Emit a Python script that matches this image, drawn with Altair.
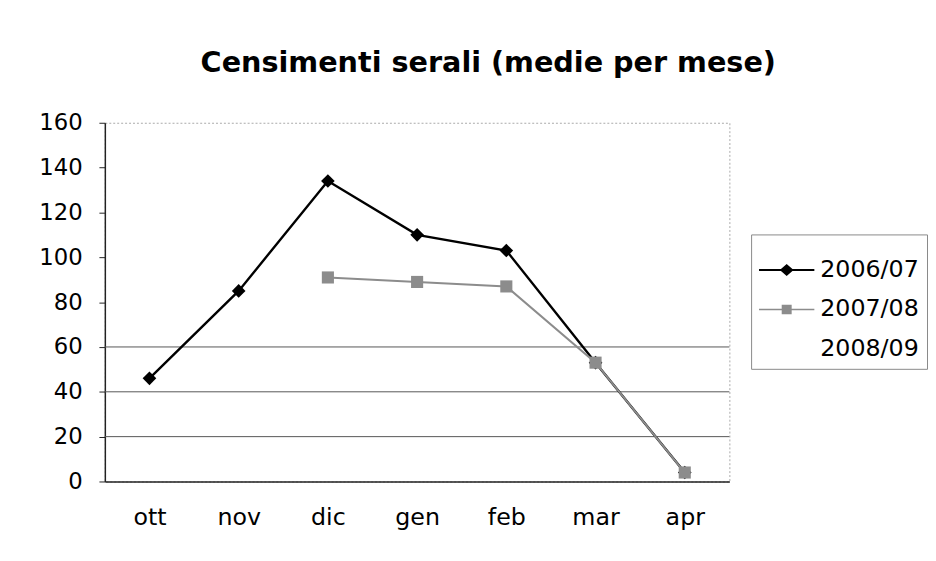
import altair as alt
import pandas as pd

months = ["ott", "nov", "dic", "gen", "feb", "mar", "apr"]
series_names = ["2006/07", "2007/08", "2008/09"]
v_2006_07 = [46, 85, 134, 110, 103, 53, 4]
v_2007_08 = [None, None, 91, 89, 87, 53, 4]
v_2008_09 = [None, None, None, None, None, None, None]
y_ticks = [0, 20, 40, 60, 80, 100, 120, 140, 160]
grid_lines = [20, 40, 60]

rows = []
for name, vals in zip(series_names, [v_2006_07, v_2007_08, v_2008_09]):
    for m, v in zip(months, vals):
        rows.append({"mese": m, "serie": name, "valore": v})
df = pd.DataFrame(rows)
grid_df = pd.DataFrame({"g": grid_lines})

colors = ["#000000", "#8c8c8c", "#ffffff"]

x_enc = alt.X("mese:N", sort=months,
              scale=alt.Scale(type="point", padding=0.5),
              axis=alt.Axis(title=None, labelAngle=0, labelFontSize=24, labelColor="#000",
                            tickSize=0, labelPadding=25, domainColor="#222", domainWidth=1.5,
                            labelFont="DejaVu Sans"))
y_enc = alt.Y("valore:Q", scale=alt.Scale(domain=[0, 160], nice=False),
              axis=alt.Axis(title=None, values=y_ticks, grid=False, labelFontSize=23,
                            labelColor="#000", tickSize=6, tickColor="#222", labelPadding=17,
                            domainColor="#222", domainWidth=1.5, labelFont="DejaVu Sans"))

grid = alt.Chart(grid_df).mark_rule(color="#555", strokeWidth=1).encode(
    y=alt.Y("g:Q", scale=alt.Scale(domain=[0, 160], nice=False))
)

lines = alt.Chart(df).mark_line().encode(
    x=x_enc, y=y_enc,
    color=alt.Color("serie:N", scale=alt.Scale(domain=series_names, range=colors), legend=None),
    strokeWidth=alt.StrokeWidth("serie:N", scale=alt.Scale(domain=series_names, range=[2.4, 1.6, 1]), legend=None),
)

points = alt.Chart(df).mark_point(filled=True, opacity=1).encode(
    x=x_enc, y=y_enc,
    color=alt.Color("serie:N", scale=alt.Scale(domain=series_names, range=colors), legend=None),
    shape=alt.Shape("serie:N", scale=alt.Scale(domain=series_names, range=["diamond", "square", "circle"]), legend=None),
    size=alt.Size("serie:N", scale=alt.Scale(domain=series_names, range=[190, 110, 10]), legend=None),
)

p1 = "M-1,-0.04H1V0.04H-1Z M-0.25,0L0,-0.22L0.25,0L0,0.22Z"
p2 = "M-1,-0.025H1V0.025H-1Z M-0.18,-0.17H0.18V0.17H-0.18Z"
p3 = "M-1,-0.02H1V0.02H-1Z"

legend_layer = alt.Chart(df).transform_filter("datum.valore > 1000").mark_point(filled=True, opacity=1).encode(
    x=x_enc, y=y_enc,
    color=alt.Color("serie:N", scale=alt.Scale(domain=series_names, range=colors),
                    legend=alt.Legend(title=None, orient="none", legendX=654, legendY=113,
                                      labelFontSize=24, labelFont="DejaVu Sans", labelColor="#000",
                                      symbolSize=3136, symbolStrokeWidth=0, symbolOpacity=1,
                                      labelOffset=6, padding=8, rowPadding=-15,
                                      strokeColor="#888", fillColor="white")),
    shape=alt.Shape("serie:N", scale=alt.Scale(domain=series_names, range=[p1, p2, p3])),
)

chart = alt.layer(grid, lines, points, legend_layer).resolve_scale(
    color="independent", shape="independent"
).properties(
    width=632, height=363,
    padding={"left": 31, "top": 39, "right": 0, "bottom": 0},
    title=alt.TitleParams("Censimenti serali (medie per mese)", fontSize=29, font="DejaVu Sans",
                          fontWeight="bold", color="#000", anchor="middle", dx=72, offset=34),
).configure_view(stroke="#aaa", strokeDash=[2, 2], strokeWidth=1)

chart.save("out.html", embed_options={"renderer": "svg", "actions": False})
